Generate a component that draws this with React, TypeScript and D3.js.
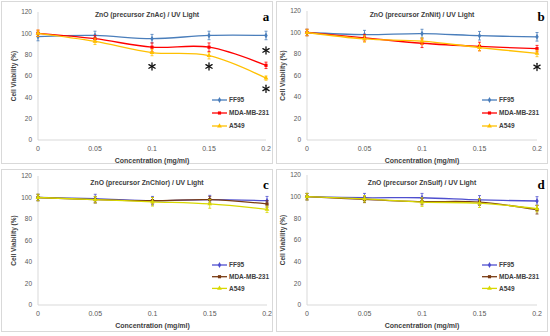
import { useRef, useEffect } from 'react'
import * as d3 from 'd3'

const concentrations = [0, 0.05, 0.1, 0.15, 0.2]
const seriesNames = ['FF95', 'MDA-MB-231', 'A549']
const yTicks = [0, 20, 40, 60, 80, 100, 120]
const xTickLabels = ['0', '0.05', '0.1', '0.15', '0.2']

const panelTitles = [
  'ZnO (precursor ZnAc) / UV Light',
  'ZnO (precursor ZnNit) / UV Light',
  'ZnO (precursor ZnChlor) / UV Light',
  'ZnO (precursor ZnSulf) / UV Light',
]
const panelLetters = ['a', 'b', 'c', 'd']

// viability (%) per panel, per series
const ffValues = [
  [97, 98, 95, 98, 98],
  [100, 98, 99, 97, 96],
  [100, 99, 97, 98, 97],
  [100, 99, 99, 97, 96],
]
const mdaValues = [
  [100, 95, 87, 87, 70],
  [100, 95, 90, 87, 85],
  [100, 98, 97, 98, 94],
  [100, 97.5, 95.5, 95, 88],
]
const a549Values = [
  [100, 92.5, 82, 79, 58],
  [100, 94, 92, 86, 80.5],
  [100, 98, 96, 94, 89],
  [100, 98, 95, 94, 89],
]

const ffErrors = [
  [4, 4, 4, 4, 4],
  [3, 4, 4, 4, 4],
  [3, 4, 4, 4, 4],
  [3, 4, 4, 4, 4],
]
const mdaErrors = [
  [3, 3, 4, 4, 3],
  [3, 3, 4, 4, 3],
  [3, 3, 3, 3, 3],
  [3, 3, 3, 3, 4],
]
const a549Errors = [
  [3, 3, 3, 3, 2],
  [3, 3, 3, 3, 3],
  [3, 3, 4, 4, 3],
  [3, 3, 4, 4, 3],
]

// significance asterisks: [panel, concentration, y value]
const asterisks: [number, number, number][] = [
  [0, 0.1, 69],
  [0, 0.15, 69],
  [0, 0.2, 84],
  [0, 0.2, 48],
  [1, 0.2, 68],
]

const colorsTop = ['#4a7ebb', '#ff0000', '#ffc000']
const colorsBottom = ['#4f4fcf', '#7a3b12', '#d8d800']

function App() {
  const ref = useRef<SVGSVGElement>(null)

  useEffect(() => {
    if (!ref.current) return
    const svg = d3.select(ref.current)
    svg.selectAll('*').remove()

    const font = '"Liberation Sans", Arial, sans-serif'
    const panels = [
      { ox: 0, oy: 0, left: 38, right: 266, top: 12, bottom: 140 },
      { ox: 275, oy: 0, left: 32, right: 262, top: 11, bottom: 140 },
      { ox: 0, oy: 168, left: 38, right: 267, top: 8, bottom: 137 },
      { ox: 275, oy: 168, left: 32, right: 262, top: 7, bottom: 137 },
    ]

    panels.forEach((p, pi) => {
      const g = svg.append('g').attr('transform', `translate(${p.ox},${p.oy})`)
      const colors = pi < 2 ? colorsTop : colorsBottom

      g.append('rect')
        .attr('x', 1.5).attr('y', 1.5)
        .attr('width', 271).attr('height', 162)
        .attr('fill', '#fff')
        .attr('stroke', '#d9d9d9')

      const x = d3.scaleLinear().domain([0, 0.2]).range([p.left, p.right])
      const y = d3.scaleLinear().domain([0, 120]).range([p.bottom, p.top])

      // axes lines
      g.append('line')
        .attr('x1', p.left).attr('x2', p.left)
        .attr('y1', y(120)).attr('y2', y(0))
        .attr('stroke', '#d9d9d9')
      g.append('line')
        .attr('x1', p.left).attr('x2', p.right)
        .attr('y1', y(0)).attr('y2', y(0))
        .attr('stroke', '#d9d9d9')

      // y tick labels
      g.selectAll('text.ytick')
        .data(yTicks)
        .enter()
        .append('text')
        .attr('x', p.left - 6)
        .attr('y', d => y(d))
        .attr('dy', '0.35em')
        .attr('text-anchor', 'end')
        .attr('font-family', font)
        .attr('font-size', '6.5px')
        .attr('fill', '#595959')
        .text(d => d)

      // x tick labels
      g.selectAll('text.xtick')
        .data(concentrations)
        .enter()
        .append('text')
        .attr('x', d => x(d))
        .attr('y', y(0) + 11)
        .attr('text-anchor', 'middle')
        .attr('font-family', font)
        .attr('font-size', '7px')
        .attr('fill', '#595959')
        .text((_, i) => xTickLabels[i])

      // axis titles
      g.append('text')
        .attr('x', (p.left + p.right) / 2)
        .attr('y', y(0) + 23)
        .attr('text-anchor', 'middle')
        .attr('font-family', font)
        .attr('font-size', '7px')
        .attr('font-weight', 'bold')
        .attr('fill', '#404040')
        .text('Concentration (mg/ml)')

      g.append('text')
        .attr('transform', `translate(${p.left - 22},${(y(0) + y(120)) / 2}) rotate(-90)`)
        .attr('text-anchor', 'middle')
        .attr('font-family', font)
        .attr('font-size', '6.5px')
        .attr('font-weight', 'bold')
        .attr('fill', '#404040')
        .text('Cell Viability (%)')

      // title
      g.append('text')
        .attr('x', 147)
        .attr('y', 17)
        .attr('text-anchor', 'middle')
        .attr('font-family', font)
        .attr('font-size', '6.8px')
        .attr('font-weight', 'bold')
        .attr('fill', '#404040')
        .text(panelTitles[pi])

      // panel letter
      g.append('text')
        .attr('x', 266)
        .attr('y', 21)
        .attr('text-anchor', 'middle')
        .attr('font-family', '"Liberation Serif", serif')
        .attr('font-size', '13px')
        .attr('font-weight', 'bold')
        .attr('fill', '#000')
        .text(panelLetters[pi])

      const series = [
        { vals: ffValues[pi], errs: ffErrors[pi], sym: d3.symbolDiamond },
        { vals: mdaValues[pi], errs: mdaErrors[pi], sym: d3.symbolSquare },
        { vals: a549Values[pi], errs: a549Errors[pi], sym: d3.symbolTriangle },
      ]

      const line = d3.line<number>()
        .x((_, i) => x(concentrations[i]))
        .y(d => y(d))
        .curve(d3.curveCatmullRom.alpha(0))

      series.forEach((s, si) => {
        const c = colors[si]
        const sg = g.append('g')
        // error bars
        s.vals.forEach((v, i) => {
          const cx = x(concentrations[i])
          sg.append('line')
            .attr('x1', cx).attr('x2', cx)
            .attr('y1', y(v - s.errs[i])).attr('y2', y(v + s.errs[i]))
            .attr('stroke', c).attr('stroke-width', 0.8)
          ;[v - s.errs[i], v + s.errs[i]].forEach(e => {
            sg.append('line')
              .attr('x1', cx - 1.5).attr('x2', cx + 1.5)
              .attr('y1', y(e)).attr('y2', y(e))
              .attr('stroke', c).attr('stroke-width', 0.8)
          })
        })
        sg.append('path')
          .datum(s.vals)
          .attr('d', line)
          .attr('fill', 'none')
          .attr('stroke', c)
          .attr('stroke-width', 1.3)
        sg.selectAll('path.m')
          .data(s.vals)
          .enter()
          .append('path')
          .attr('transform', (d, i) => `translate(${x(concentrations[i])},${y(d)})`)
          .attr('d', d3.symbol().type(s.sym).size(10)())
          .attr('fill', c)
      })

      // legend
      const lx = pi % 2 === 0 ? 212 : 207
      const ly = pi < 2 ? 100 : 97
      const lstep = pi < 2 ? 13 : 11.7
      seriesNames.forEach((name, si) => {
        const yy = ly + si * lstep
        g.append('line')
          .attr('x1', lx).attr('x2', lx + 15)
          .attr('y1', yy).attr('y2', yy)
          .attr('stroke', colors[si]).attr('stroke-width', 1.3)
        g.append('path')
          .attr('transform', `translate(${lx + 7.5},${yy})`)
          .attr('d', d3.symbol().type(series[si].sym).size(10)())
          .attr('fill', colors[si])
        g.append('text')
          .attr('x', lx + 17)
          .attr('y', yy)
          .attr('dy', '0.35em')
          .attr('font-family', font)
          .attr('font-size', '6.5px')
          .attr('font-weight', 'bold')
          .attr('fill', '#404040')
          .text(name)
      })

      // asterisks, drawn as six-spoke stars
      asterisks.filter(a => a[0] === pi).forEach(a => {
        const r = 3.6
        const ag = g.append('g').attr('transform', `translate(${x(a[1])},${y(a[2])})`)
        ;[90, 30, -30].forEach(angle => {
          const rad = (angle * Math.PI) / 180
          ag.append('line')
            .attr('x1', -r * Math.cos(rad)).attr('y1', -r * Math.sin(rad))
            .attr('x2', r * Math.cos(rad)).attr('y2', r * Math.sin(rad))
            .attr('stroke', '#111')
            .attr('stroke-width', 1.3)
            .attr('stroke-linecap', 'round')
        })
      })
    })
  }, [])

  return (
    <svg
      ref={ref}
      width={550}
      height={336}
      style={{ position: 'absolute', left: 0, top: 0, background: '#fff' }}
    />
  )
}

export default App
